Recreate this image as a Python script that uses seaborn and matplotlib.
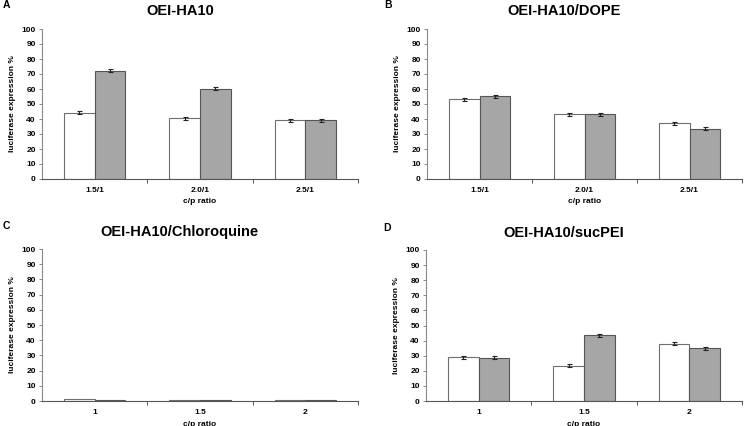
import numpy as np
import pandas as pd
import matplotlib
matplotlib.use("Agg")
import matplotlib.pyplot as plt
import seaborn as sns

sns.set_theme(style="white")
plt.rcParams['font.family'] = ['Liberation Sans', 'DejaVu Sans']
plt.rcParams['text.color'] = 'black'
plt.rcParams['axes.labelcolor'] = 'black'
plt.rcParams['xtick.color'] = 'black'
plt.rcParams['ytick.color'] = 'black'

titles = ["OEI-HA10", "OEI-HA10/DOPE", "OEI-HA10/Chloroquine", "OEI-HA10/sucPEI"]
letters = ["A", "B", "C", "D"]
cats_ab = ["1.5/1", "2.0/1", "2.5/1"]
cats_cd = ["1", "1.5", "2"]

a_white = [44, 40.5, 39]
a_grey = [72, 60, 39]
b_white = [53, 43, 37]
b_grey = [55, 43, 33.5]
c_white = [1.5, 0.8, 0.5]
c_grey = [0.5, 0.6, 0.5]
d_white = [29, 23.5, 38]
d_grey = [28.5, 43.5, 35]

a_err_w = [1.0, 1.0, 1.0]
a_err_g = [1.0, 1.0, 1.0]
b_err_w = [1.0, 1.0, 1.0]
b_err_g = [1.0, 1.0, 1.0]
c_err_w = [0.0, 0.0, 0.0]
c_err_g = [0.0, 0.0, 0.0]
d_err_w = [1.0, 1.0, 1.0]
d_err_g = [1.0, 1.0, 1.0]

panels = [
    (cats_ab, a_white, a_grey, a_err_w, a_err_g),
    (cats_ab, b_white, b_grey, b_err_w, b_err_g),
    (cats_cd, c_white, c_grey, c_err_w, c_err_g),
    (cats_cd, d_white, d_grey, d_err_w, d_err_g),
]

W, H = 744, 426
fig = plt.figure(figsize=(W / 100, H / 100), dpi=100)
fig.patch.set_facecolor("white")

# pixel boxes: (left, top, right, bottom)
boxes = [
    (42, 29, 358, 179),
    (427, 29, 742, 179),
    (42, 249, 358, 401),
    (426, 250, 742, 401),
]
title_pos = [(180, 11), (564, 11), (179, 232), (564, 233)]
letter_pos = [(3, 5), (384, 5), (3, 226), (383, 228)]

palette = {"w": "#ffffff", "g": "#a6a6a6"}
edges = {"w": "#6e6e6e", "g": "#555555"}

for i, (cats, wv, gv, we, ge) in enumerate(panels):
    l, t, r, b = boxes[i]
    ax = fig.add_axes([l / W, 1 - b / H, (r - l) / W, (b - t) / H])
    df = pd.DataFrame({
        "cat": cats * 2,
        "val": list(wv) + list(gv),
        "grp": ["w"] * 3 + ["g"] * 3,
        "err": list(we) + list(ge),
    })
    sns.barplot(data=df, x="cat", y="val", hue="grp", hue_order=["w", "g"],
                palette=palette, width=0.58, gap=0, errorbar=None,
                legend=False, ax=ax, linewidth=0.8, saturation=1)
    bars = list(ax.patches)
    for j, p in enumerate(bars[:6]):
        grp = "w" if j < 3 else "g"
        p.set_edgecolor(edges[grp])
        e = df["err"].iloc[j]
        if e > 0:
            ax.errorbar(p.get_x() + p.get_width() / 2, p.get_height(), yerr=e,
                        fmt="none", ecolor="#222222", elinewidth=0.8,
                        capsize=1.8, capthick=0.8)
    ax.set_ylim(0, 100)
    ax.set_xlim(-0.5, 2.5)
    ax.set_yticks(np.arange(0, 101, 10))
    ax.set_yticklabels([str(v) for v in range(0, 101, 10)], fontsize=6,
                       fontweight="bold")
    ax.set_xticks([0, 1, 2])
    ax.set_xticklabels(cats, fontsize=6, fontweight="bold")
    ax.set_xticks([0.5, 1.5, 2.5], minor=True)
    ax.tick_params(axis="x", which="major", length=0, pad=6)
    ax.tick_params(axis="x", which="minor", length=3, width=0.7,
                   color="#555555", direction="out", bottom=True)
    ax.tick_params(axis="y", length=2.5, width=0.7, color="#888888",
                   direction="out", left=True, pad=2)
    ax.set_xlabel("c/p ratio", fontsize=6, fontweight="bold", labelpad=3)
    ax.set_ylabel("luciferase expression %", fontsize=6, fontweight="bold",
                  labelpad=4)
    for s in ["top", "right"]:
        ax.spines[s].set_visible(False)
    ax.spines["left"].set_color("#888888")
    ax.spines["bottom"].set_color("#555555")
    for s in ["left", "bottom"]:
        ax.spines[s].set_linewidth(0.8)
    ax.set_facecolor("white")
    tx, ty = title_pos[i]
    fig.text(tx / W, 1 - ty / H, titles[i], fontsize=10.5, fontweight="bold",
             ha="center", va="center", color="black")
    lx, ly = letter_pos[i]
    fig.text(lx / W, 1 - ly / H, letters[i], fontsize=7.5, fontweight="bold",
             ha="left", va="center", color="black")

fig.savefig("out.png", dpi=100, facecolor="white")
